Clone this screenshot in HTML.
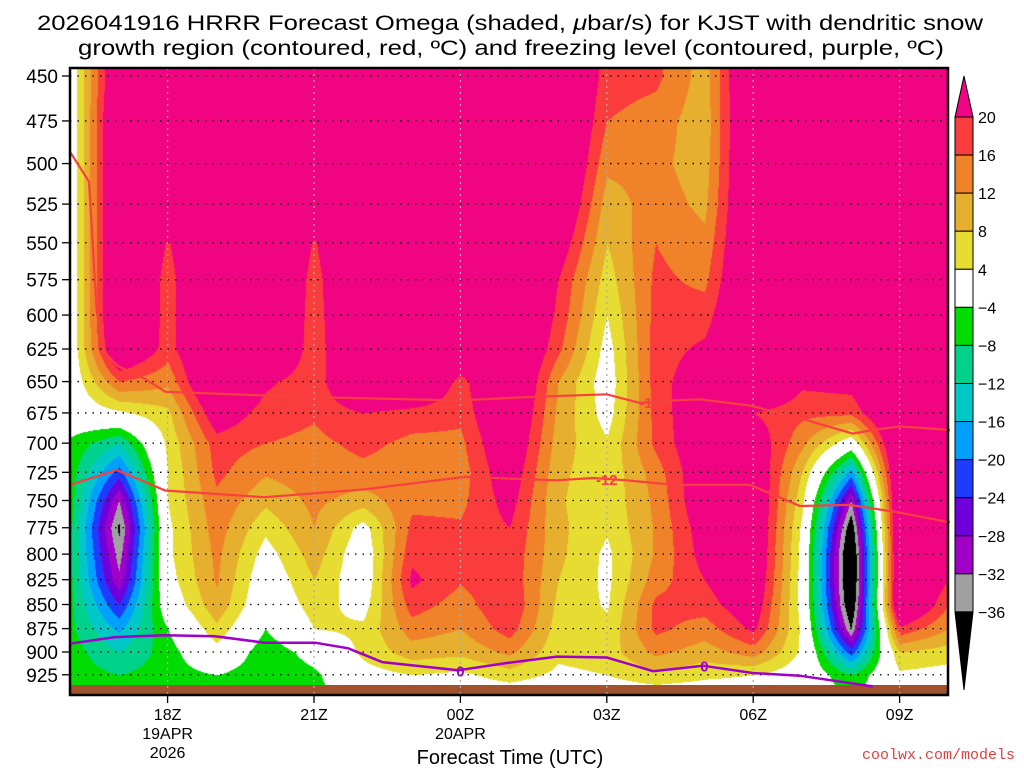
<!DOCTYPE html>
<html><head><meta charset="utf-8">
<style>
html,body{margin:0;padding:0;background:#fff;width:1024px;height:768px;overflow:hidden}
#plot{position:absolute;left:70px;top:68px}
svg{position:absolute;left:0;top:0}
text{font-family:"Liberation Sans",sans-serif;fill:#000}
</style></head>
<body>
<canvas id="plot" width="878" height="617"></canvas>
<svg id="ov" width="1024" height="768"></svg>
<script>
// ---- data ----
const times = ["16Z","17Z","18Z","19Z","20Z","21Z","22Z","23Z","00Z","01Z","02Z","03Z","04Z","05Z","06Z","07Z","08Z","09Z","10Z"];
const levels = [450,475,500,525,550,575,600,625,650,675,700,725,750,775,800,825,850,875,900,925,950];
const omega16Z = [0,0,0,0,0,0,0,0,0,0,-5,-6,-6,-7,-7,-7,-7,-7,-6,-6,-6];
const omega17Z = [28,30,30,30,30,30,30,28,16,3,-12,-22,-32,-37,-34,-31,-24,-17,-12,-8,-6];
const omega18Z = [30,30,30,30,19.5,18,18,18,13,7,5,4,4,3,3,2,0,-4,-6,-6,-6];
const omega19Z = [30,30,30,30,30,30,30,30,30,24,18,17,15,14,13,12.5,11,7,2,-4,-6];
const omega20Z = [30,30,30,30,30,30,30,30,21,18,16,12.5,9,5,2,0,-1,-4,-7,-7,-7];
const omega21Z = [30,30,30,25,19.5,18,17.5,17,17,16.5,15,14,13,12,10,8,6,4,-2,-5,-6];
const omega22Z = [30,30,30,30,30,30,30,30,30,20,17,15,10,2,0,0,2,5,5,2,0];
const omega23Z = [30,30,30,30,30,30,30,30,30,18,15,14,15,17,19,21,18,14,10,4,0];
const omega00Z = [30,30,30,30,30,30,30,28,18,17,15,14,15,16.5,17,16.5,14,12,9,3,0];
const omega01Z = [30,30,30,30,30,30,30,30,30,28,26,24,22,20,19,19,20,18,13,6,0];
const omega02Z = [30,30,30,28,24,20,19,17,12,11,10,9,8.5,9,9,8,7,6,5,3,0];
const omega03Z = [18,16,13,10,8,6,4,2,1,2,4.5,5,5,4.5,3,3,3.5,5,6,4,0];
const omega04Z = [17,14,13,14,16,17,17.5,18,18,17.5,17,14,13,12.5,12.5,14,17,17,13,7,0];
const omega05Z = [10,9.5,10,11,13,15,18,21,24,25,25,25,25,23,22,20,18,14,10,5,0];
const omega06Z = [30,30,30,30,30,30,30,30,30,20,24,26,27,27,27,26,24,21,14,4,0];
const omega07Z = [30,30,30,30,30,30,30,30,21,17,13,8,5,3,2,2,2,3,3,1,0];
const omega08Z = [30,30,30,30,30,30,30,28,22,17,0,-18,-32,-40,-44,-44,-42,-36,-22,-8,-4];
const omega09Z = [30,30,30,30,30,30,30,30,30,30,30,30,30,30,30,30,30,19,8,3,0];
const omega10Z = [30,30,30,30,30,30,30,30,30,30,30,30,30,30,30,20,16,12,6,2,0];
const omegaCols = [omega16Z,omega17Z,omega18Z,omega19Z,omega20Z,omega21Z,omega22Z,omega23Z,omega00Z,omega01Z,omega02Z,omega03Z,omega04Z,omega05Z,omega06Z,omega07Z,omega08Z,omega09Z,omega10Z];
const contourLevels = [-36,-32,-28,-24,-20,-16,-12,-8,-4,4,8,12,16,20];
const shadeColors = ["#000000","#a0a0a0","#a000c8","#6e00dc","#1e3cff","#00a0ff","#00c8c8","#00d28c","#00dc00","#ffffff","#e6dc32","#e6af2d","#f0822a","#fa3c3c","#f00482"];
const yTicks = [450,475,500,525,550,575,600,625,650,675,700,725,750,775,800,825,850,875,900,925];
const xTickHours = [2,5,8,11,14,17];
const xTickLabels = [["18Z","19APR","2026"],["21Z"],["00Z","20APR"],["03Z"],["06Z"],["09Z"]];
// isotherm lines (hour, pressure)
const isoUpperH = [0,0.39,0.45,0.55,0.72,0.98,1.54,1.95,4.71,8.0,8.46,9.49,11.0,11.68,12.36,12.91,13.93,15.02,16.04,16.45,17.0,18.03];
const isoUpperP = [493,511,543,598,628,638,648,658,662,665,664,662,660,667,665,664,669,680,692,689,686,689];
const isoLowerH = [0,0.96,1.95,3.99,6.04,8.09,9.98,10.72,11.41,12.36,13.93,14.96,15.98,17.0,18.03];
const isoLowerP = [736,723,741,747,740,729,732,730,732,736,736,755,754,761,770];
const frzH = [0,0.92,1.95,2.97,3.99,5.02,5.7,6.4,7.95,8.95,9.98,11.0,11.95,12.97,13.99,14.95,16.45];
const frzP = [891,884,882,883,890,890,896,911,920,912,905,906,921,915,923,926,938];

// ---- axes ----
const X0=70, PX_H=48.8, Y0=76, PX_LN=831;
function xOf(h){return X0+h*PX_H;}
function yOf(p){return Y0+PX_LN*Math.log(p/450);}
function pOf(y){return 450*Math.exp((y-Y0)/PX_LN);}
function hex(c){return [parseInt(c.substr(1,2),16),parseInt(c.substr(3,2),16),parseInt(c.substr(5,2),16)];}

// ---- field ----
const cv=document.getElementById('plot'),ctx=cv.getContext('2d');
const W=cv.width,H=cv.height,img=ctx.createImageData(W,H);
const rgbs=shadeColors.map(hex);
for(let py=0;py<H;py++){
  const p=pOf(68+py);let r=(p-levels[0])/25;r=Math.max(0,Math.min(levels.length-1.001,r));
  const r0=Math.floor(r),fr=r-r0;
  for(let px=0;px<W;px++){
    let t=(px)/PX_H;t=Math.max(0,Math.min(times.length-1.001,t));
    const t0=Math.floor(t),ft=t-t0;
    const a=omegaCols[t0][r0]*(1-fr)+omegaCols[t0][r0+1]*fr;
    const b=omegaCols[t0+1][r0]*(1-fr)+omegaCols[t0+1][r0+1]*fr;
    const v=a*(1-ft)+b*ft;
    let i=0;while(i<contourLevels.length&&v>=contourLevels[i])i++;
    const c=rgbs[i],k=(py*W+px)*4;
    img.data[k]=c[0];img.data[k+1]=c[1];img.data[k+2]=c[2];img.data[k+3]=255;
  }
}
ctx.putImageData(img,0,0);

// ---- overlay ----
const NS="http://www.w3.org/2000/svg",svg=document.getElementById('ov');
function mk(tag,attrs,txt){const e=document.createElementNS(NS,tag);for(const k in attrs)e.setAttribute(k,attrs[k]);if(txt!==undefined)e.textContent=txt;svg.appendChild(e);return e;}

let e=mk('rect',{x:70,y:685,width:878,height:10,fill:'#a0522d'});



yTicks.forEach(p=>{
  const g=mk('line',{x1:70,x2:948,y1:yOf(p),y2:yOf(p),stroke:'#000','stroke-width':1.3,'stroke-dasharray':'1.5 6'});
  
  
});
xTickHours.forEach((h,i)=>{
  const g=mk('line',{x1:xOf(h),x2:xOf(h),y1:68,y2:695,stroke:'#aaa','stroke-width':1.3,'stroke-dasharray':'2 4'});
  
  
});

function path(hs,ps){return hs.map((h,i)=>(i?'L':'M')+xOf(h).toFixed(1)+' '+yOf(ps[i]).toFixed(1)).join(' ');}
e=mk('path',{d:path(isoUpperH,isoUpperP),fill:'none',stroke:'#f84040','stroke-width':2.2});


e=mk('path',{d:path(isoLowerH,isoLowerP),fill:'none',stroke:'#f84040','stroke-width':2.2});


e=mk('path',{d:path(frzH,frzP),fill:'none',stroke:'#a000c8','stroke-width':2.5});


function lab(txt,h,p,col,name){
  const t=mk('text',{x:xOf(h),y:yOf(p)+6,'text-anchor':'middle','font-size':15,'font-weight':'bold',style:'fill:'+col});
  t.textContent=txt;
  
  
}
lab('-1',11.8,666,'#f84040','isotherm-label-upper');
lab('-12',11.0,731,'#f84040','isotherm-label-lower');
lab('0',8.0,920,'#a000c8','freezing-label-1');
lab('0',13.0,915,'#a000c8','freezing-label-2');

e=mk('rect',{x:70,y:68,width:878,height:627,fill:'none',stroke:'#000','stroke-width':2.5});



yTicks.forEach(p=>{
  const y=yOf(p);
  mk('line',{x1:62,x2:70,y1:y,y2:y,stroke:'#000','stroke-width':1.3});
  const t=mk('text',{x:58,y:y+7,'text-anchor':'end','font-size':19},String(p));
  
  
});
xTickHours.forEach((h,i)=>{
  const x=xOf(h);
  mk('line',{x1:x,x2:x,y1:695,y2:703,stroke:'#000','stroke-width':1.3});
  xTickLabels[i].forEach((s,j)=>{
    const t=mk('text',{x:x,y:720+j*19,'text-anchor':'middle','font-size':16},s);
    
    
  });
});
e=mk('text',{x:510,y:764,'text-anchor':'middle','font-size':20},'Forecast Time (UTC)');


e=mk('text',{x:1015,y:759,'text-anchor':'end','font-size':15,style:'fill:#e04040;font-family:"Liberation Mono",monospace'},'coolwx.com/models');



e=mk('text',{x:37,y:30,'font-size':21,textLength:946,lengthAdjust:'spacingAndGlyphs'});
e.innerHTML='2026041916 HRRR Forecast Omega (shaded, <tspan font-style="italic">μ</tspan>bar/s) for KJST with dendritic snow';


e=mk('text',{x:78,y:55,'font-size':21,textLength:866,lengthAdjust:'spacingAndGlyphs'},'growth region (contoured, red, ºC) and freezing level (contoured, purple, ºC)');



const CB_X=955,CB_W=18,CB_TOP=117,CB_STEP=38.07;
const barLabels=[20,16,12,8,4,-4,-8,-12,-16,-20,-24,-28,-32,-36];
e=mk('polygon',{points:`${CB_X},${CB_TOP} ${CB_X+CB_W},${CB_TOP} ${CB_X+CB_W/2},76`,fill:shadeColors[14],stroke:'#000','stroke-width':1});


for(let i=0;i<13;i++){
  const r=mk('rect',{x:CB_X,y:CB_TOP+i*CB_STEP,width:CB_W,height:CB_STEP,fill:shadeColors[13-i],stroke:'#000','stroke-width':1});
  
  
}
const cbBot=CB_TOP+13*CB_STEP;
e=mk('polygon',{points:`${CB_X},${cbBot} ${CB_X+CB_W},${cbBot} ${CB_X+CB_W/2},690`,fill:'#000',stroke:'#000','stroke-width':1});


barLabels.forEach((v,i)=>{
  const t=mk('text',{x:978,y:CB_TOP+i*CB_STEP+6,'font-size':16},(v<0?'\u2212':'')+Math.abs(v));
  
  
});
</script>
</body></html>
